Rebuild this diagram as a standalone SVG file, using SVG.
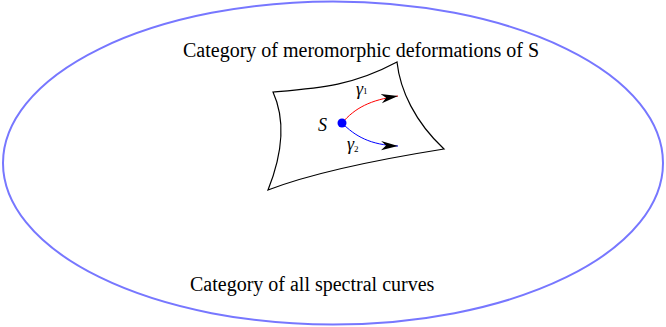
<svg xmlns="http://www.w3.org/2000/svg" width="666" height="327" viewBox="0 0 666 327">
<style>
.lbl{font-family:"Liberation Serif","Times New Roman",serif;font-size:20px;fill:#000}
.it{font-family:"Liberation Serif","Times New Roman",serif;font-style:italic;fill:#000}
.edge{fill:none;stroke-width:1}
</style>
<defs>
<marker id="ah" markerUnits="userSpaceOnUse" markerWidth="20" markerHeight="12" refX="17" refY="5.5" orient="auto">
<path d="M0,1 L17,5.5 L0,10.5 L5,5.5 Z" fill="#000"/>
</marker>
</defs>
<rect width="666" height="327" fill="#fff"/>
<g id="outer">
<ellipse cx="333" cy="163" rx="330" ry="161.5" fill="none" stroke="#7777ff" stroke-width="2"/>
<text class="lbl" x="183" y="57">Category of meromorphic deformations of S</text>
<text class="lbl" x="190" y="291">Category of all spectral curves</text>
</g>
<g id="surface">
<path d="M273,92 C320,88 352,86 397,62 C400,90 415,122 444,149 C400,156 320,170 268,190 C280,160 288,125 273,92 Z" fill="none" stroke="#000" stroke-width="1.2"/>
</g>
<g id="connectors">
<path class="edge" d="M342,123 C355,108 370,100 398,96" stroke="#ff0000" marker-end="url(#ah)"/>
<path class="edge" d="M342,123 C355,136 370,145 398,146" stroke="#0000ff" marker-end="url(#ah)"/>
</g>
<g id="S">
<circle cx="342" cy="123" r="4.5" fill="#0000ff"/>
<text class="it" x="318" y="131" font-size="18">S</text>
</g>
<g id="labels">
<text class="it" x="356" y="95" font-size="18">γ<tspan font-size="9" font-style="normal" dy="-1">1</tspan></text>
<text class="it" x="347" y="150" font-size="18">γ<tspan font-size="9" font-style="normal" dy="2">2</tspan></text>
</g>
</svg>
